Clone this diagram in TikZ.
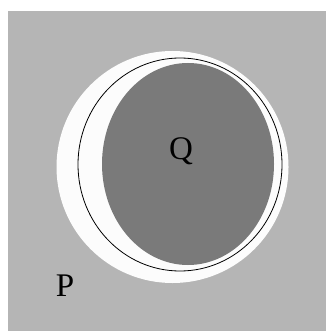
\documentclass[tikz,border=0pt]{standalone}
\usepackage{fontspec}
\setmainfont{Liberation Serif}
\definecolor{PaleGrey}{RGB}{181,181,181}
\definecolor{DiskGrey}{RGB}{122,122,122}
\definecolor{Halo}{RGB}{252,252,252}
\usetikzlibrary{positioning}

\begin{document}
\begin{tikzpicture}[x=1pt, y=-1pt, every node/.style={font=\fontsize{33}{40}\selectfont, inner sep=0pt, anchor=base}]
\useasboundingbox (0,0) rectangle (326,331);
\fill[white] (0,0) rectangle (326,331);
\fill[PaleGrey] (8,11) rectangle (326,331);
\fill[Halo] (172.5,167) circle (116);
% dark disk inside the outlined ring
\begin{scope}
\clip (180,164.5) ellipse [x radius=102, y radius=106.5];
\fill[DiskGrey] (188,164) ellipse [x radius=86, y radius=101];
\end{scope}
\draw[black, line width=0.8pt] (180,164.5) ellipse [x radius=102, y radius=106.5];
\node (q) at (181,159) {Q};
\node (p) at (65,296) {P};
\end{tikzpicture}
\end{document}
